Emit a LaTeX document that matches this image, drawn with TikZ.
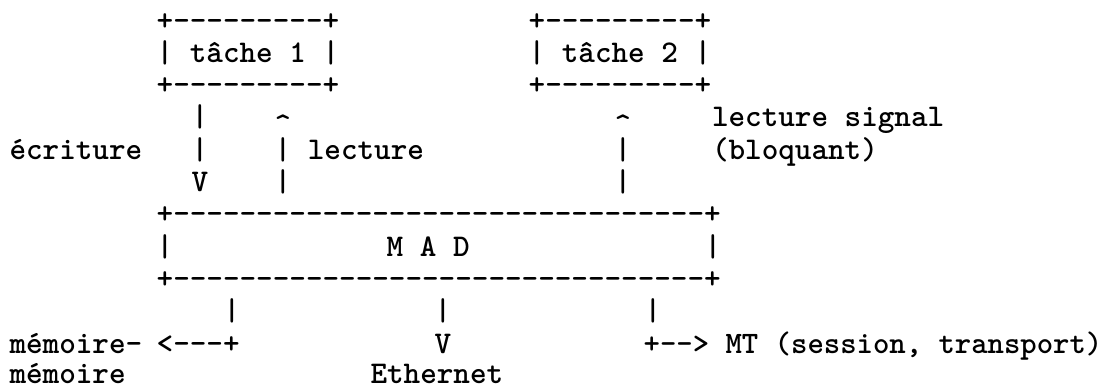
\documentclass[tikz,border=0pt]{standalone}
% typewriter text, one line of the sketch per node
\newcommand\asciifont{\ttfamily\bfseries\fontsize{31.6bp}{38bp}\selectfont\frenchspacing}
\newcommand\asciifontnarrow{\ttfamily\bfseries\fontsize{31.2bp}{38bp}\selectfont\frenchspacing}
\tikzset{
  ascii/.style={anchor=base west, inner sep=0pt, outer sep=0pt, font=\asciifont, text=black},
  caret/.style={ascii, yshift=-8bp},
}
\begin{document}
\begin{tikzpicture}[x=1bp,y=-1bp]
\fill[white] (0,0) rectangle (1105,390);
\useasboundingbox (0,0) rectangle (1105,390);

% tasks
\node[ascii] (tA1) at (156.7,30)   {+---------+};
\node[ascii] (tA2) at (156.7,62.3) {| tâche 1 |};
\node[ascii] (tA3) at (156.7,94.6) {+---------+};
\node[ascii] (tB1) at (528.7,30)   {+---------+};
\node[ascii] (tB2) at (528.7,62.3) {| tâche 2 |};
\node[ascii] (tB3) at (528.7,94.6) {+---------+};

% links between the tasks and MAD
\node[ascii] (w1) at (191.7,126.9) {|};
\node[caret] (r1) at (274.7,126.9) {\textasciicircum};
\node[caret] (s1) at (614.7,126.9) {\textasciicircum};
\node[ascii] (sigA) at (712,126.9) {lecture signal};

\node[ascii] (ecr) at (9.5,159.2)   {écriture};
\node[ascii] (w2)  at (191.7,159.2) {|};
\node[ascii] (r2)  at (274.7,159.2) {| lecture};
\node[ascii] (s2)  at (614.7,159.2) {|};
\node[ascii] (sigB) at (712,159.2)  {(bloquant)};

\node[ascii] (w3) at (191.7,191.5) {V};
\node[ascii] (r3) at (274.7,191.5) {|};
\node[ascii] (s3) at (614.7,191.5) {|};

% MAD
\node[ascii] (m1) at (156.7,223.8) {+--------------------------------+};
\node[ascii] (m2l) at (156.7,256.1) {|};
\node[ascii] (m2) at (386.7,256.1) {M A D};
\node[ascii] (m2r) at (704.5,256.1) {|};
\node[ascii] (m3) at (156.7,288.4) {+--------------------------------+};

% outputs
\node[ascii] (o1) at (223.7,320.7) {|};
\node[ascii] (o2) at (434.7,320.7) {|};
\node[ascii] (o3) at (644.7,320.7) {|};

\node[ascii] (memA) at (9.5,353)   {mémoire-};
\node[ascii] (memL) at (156.7,353) {<---+};
\node[ascii] (ethV) at (434.7,353) {V};
\node[ascii, font=\asciifontnarrow] (mt) at (643.7,353) {+--> MT (session, transport)};

\node[ascii] (memB) at (9.5,383)   {mémoire};
\node[ascii] (eth)  at (370.5,383) {Ethernet};
\end{tikzpicture}
\end{document}
